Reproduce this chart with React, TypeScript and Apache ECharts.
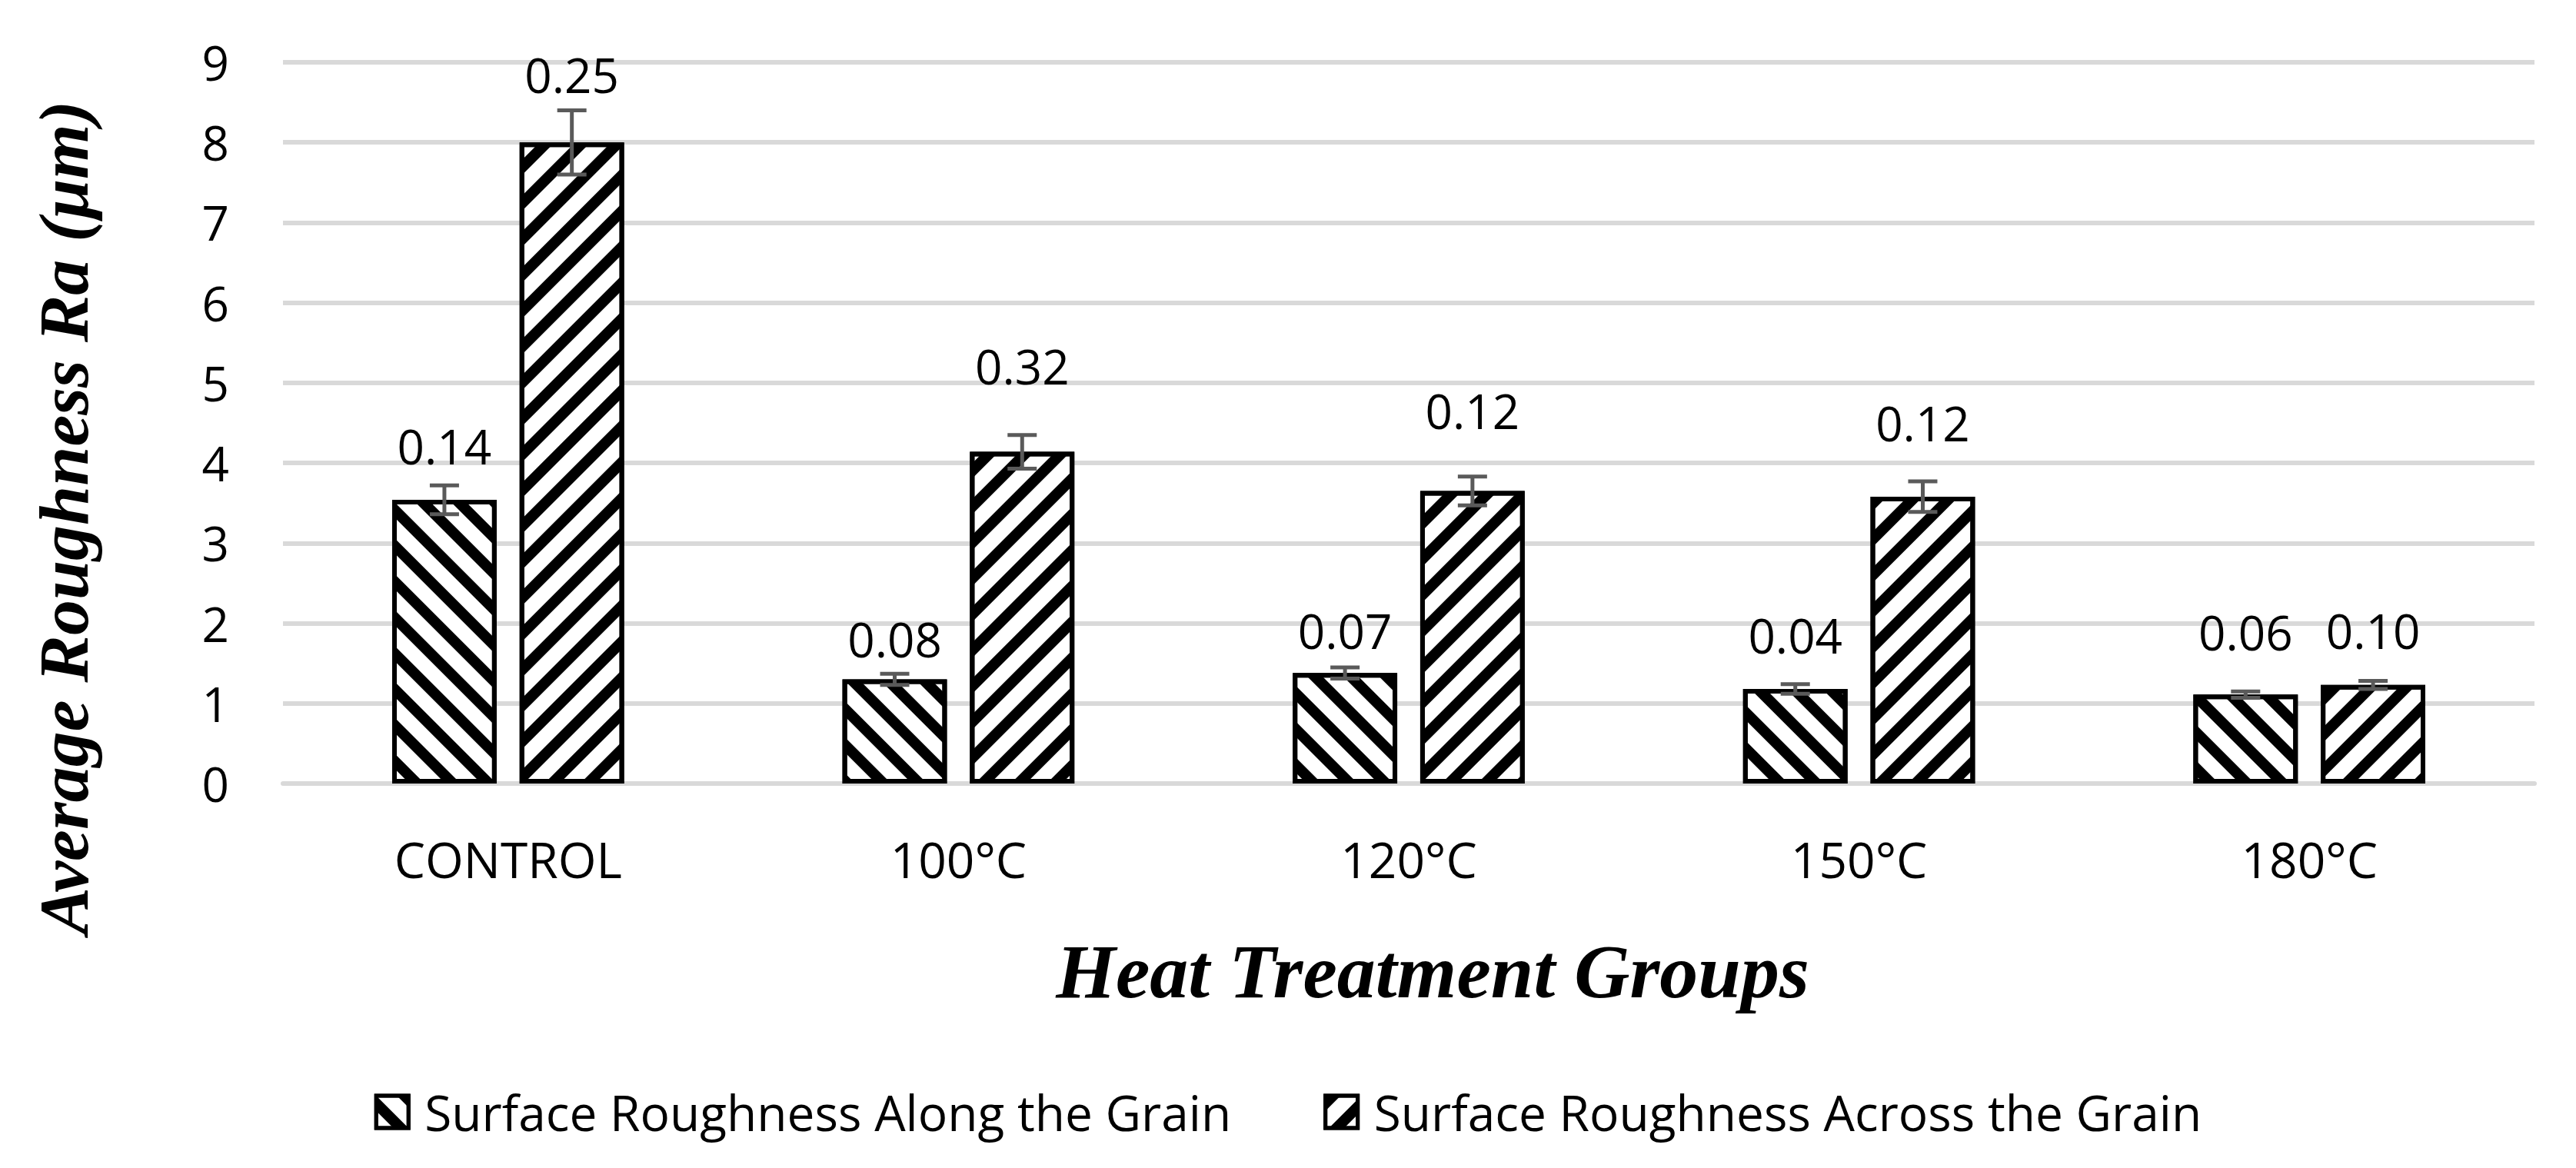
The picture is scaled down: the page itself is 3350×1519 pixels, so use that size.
import React, { useEffect, useRef } from "react";
import * as echarts from "echarts";

// ---------- data ----------
const categories = ["CONTROL", "100°C", "120°C", "150°C", "180°C"];
const seriesNames = [
  "Surface Roughness Along the Grain",
  "Surface Roughness Across the Grain",
];
const alongValues = [3.54, 1.3, 1.38, 1.18, 1.11];
const acrossValues = [8.0, 4.14, 3.65, 3.58, 1.23];
const alongErrors = [0.18, 0.07, 0.07, 0.06, 0.04];
const acrossErrors = [0.4, 0.21, 0.18, 0.19, 0.05];
const alongLabels = ["0.14", "0.08", "0.07", "0.04", "0.06"];
const acrossLabels = ["0.25", "0.32", "0.12", "0.12", "0.10"];
const yMin = 0;
const yMax = 9;
const yInterval = 1;

// ---------- styles ----------
const SANS = '"Open Sans", "Noto Sans", sans-serif';
const SERIF = '"Liberation Serif", "DejaVu Serif", serif';
const BAR_WIDTH_FRAC = 0.232;
const BAR_GAP_FRAC = 0.22;
const LABEL_SIZE = 62;
// distance (px) from bar top to the centre of its value label
const ALONG_LABEL_LIFT = [70, 53, 55, 70, 81];
const ACROSS_LABEL_LIFT = [88, 112, 105, 96, 71];
const ERR_COLOR = "#5a5a5a";
const ERR_WIDTH = 5;
const CAP = 38;
const GRID_COLOR = "#d9d9d9";

const stripe = (rotation: number) => ({
  symbol: "rect",
  symbolSize: 1,
  dashArrayX: [1, 0],
  dashArrayY: [14, 19],
  rotation,
  color: "#000",
});

function errorSeries(name: string, values: number[], errors: number[], side: number) {
  return {
    type: "custom",
    name,
    z: 5,
    silent: true,
    data: values.map((v, i) => [i, v, errors[i]]),
    encode: { x: 0, y: 1 },
    renderItem: (_params: any, api: any) => {
      const i = api.value(0);
      const v = api.value(1);
      const e = api.value(2);
      const band = api.size([1, 0])[0];
      const barW = band * BAR_WIDTH_FRAC;
      const off = (side * (barW + barW * BAR_GAP_FRAC)) / 2;
      const top = api.coord([i, v + e]);
      const bot = api.coord([i, v - e]);
      const x = top[0] + off;
      const style = { stroke: ERR_COLOR, lineWidth: ERR_WIDTH, fill: null };
      return {
        type: "group",
        children: [
          { type: "line", shape: { x1: x, y1: top[1], x2: x, y2: bot[1] }, style },
          { type: "line", shape: { x1: x - CAP / 2, y1: top[1], x2: x + CAP / 2, y2: top[1] }, style },
          { type: "line", shape: { x1: x - CAP / 2, y1: bot[1], x2: x + CAP / 2, y2: bot[1] }, style },
        ],
      };
    },
  };
}

function barSeries(name: string, values: number[], labels: string[], lifts: number[], rotation: number) {
  return {
    type: "bar",
    name,
    barWidth: `${BAR_WIDTH_FRAC * 100}%`,
    barGap: `${BAR_GAP_FRAC * 100}%`,
    data: values.map((v, i) => ({
      value: v,
      label: { distance: lifts[i] - LABEL_SIZE / 2 },
    })),
    itemStyle: {
      color: "#ffffff",
      borderColor: "#000000",
      borderWidth: 6,
      decal: stripe(rotation),
    },
    label: {
      show: true,
      position: "top",
      formatter: (p: any) => labels[p.dataIndex],
      fontFamily: SANS,
      fontSize: LABEL_SIZE,
      lineHeight: LABEL_SIZE,
      color: "#000",
    },
  };
}

export default function App() {
  const ref = useRef<HTMLDivElement>(null);
  useEffect(() => {
    if (!ref.current) return;
    const chart = echarts.init(ref.current, undefined, { renderer: "svg" });
    chart.setOption({
      animation: false,
      backgroundColor: "#ffffff",
      grid: { left: 368, right: 54, top: 81, bottom: 500, containLabel: false },
      legend: {
        data: seriesNames,
        left: "center",
        top: 1409,
        icon: "rect",
        itemWidth: 42,
        itemHeight: 42,
        itemGap: 120,
        itemStyle: { borderColor: "#000", borderWidth: 5 },
        textStyle: { fontFamily: SANS, fontSize: 64, color: "#000", padding: [0, 0, 0, 16] },
      },
      xAxis: {
        type: "category",
        data: categories,
        axisLine: { show: true, lineStyle: { color: GRID_COLOR, width: 6 } },
        axisTick: { show: false },
        axisLabel: { fontFamily: SANS, fontSize: 64, color: "#000", margin: 66 },
      },
      yAxis: {
        type: "value",
        min: yMin,
        max: yMax,
        interval: yInterval,
        axisLine: { show: false },
        axisTick: { show: false },
        splitLine: { lineStyle: { color: GRID_COLOR, width: 6 } },
        axisLabel: { fontFamily: SANS, fontSize: 62, color: "#000", margin: 70 },
      },
      graphic: [
        {
          type: "text",
          x: 1863,
          y: 1263,
          style: {
            text: "Heat Treatment Groups",
            fontFamily: SERIF,
            fontSize: 100,
            fontStyle: "italic",
            fontWeight: "bold",
            fill: "#000",
            align: "center",
            verticalAlign: "middle",
          },
        },
        {
          type: "text",
          x: 83,
          y: 673,
          rotation: Math.PI / 2,
          style: {
            text: "Average Roughness Ra (μm)",
            fontFamily: SERIF,
            fontSize: 92,
            fontStyle: "italic",
            fontWeight: "bold",
            fill: "#000",
            align: "center",
            verticalAlign: "middle",
          },
        },
      ],
      series: [
        barSeries(seriesNames[0], alongValues, alongLabels, ALONG_LABEL_LIFT, Math.PI / 4),
        barSeries(seriesNames[1], acrossValues, acrossLabels, ACROSS_LABEL_LIFT, -Math.PI / 4),
        errorSeries("err-along", alongValues, alongErrors, -1),
        errorSeries("err-across", acrossValues, acrossErrors, 1),
      ],
    });
    return () => chart.dispose();
  }, []);
  return (
    <div
      ref={ref}
      style={{ position: "fixed", left: 0, top: 0, width: 3350, height: 1519, background: "#fff" }}
    />
  );
}
